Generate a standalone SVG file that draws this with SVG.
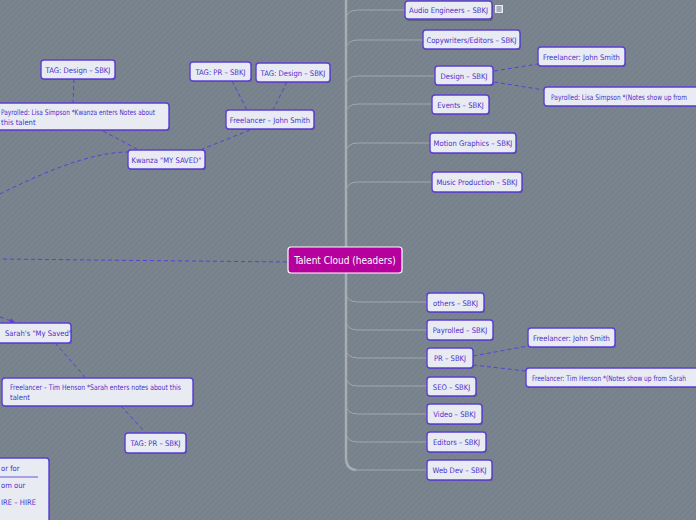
<svg xmlns="http://www.w3.org/2000/svg" width="696" height="520" viewBox="0 0 696 520">
<defs>
<pattern id="bg" width="4" height="4" patternUnits="userSpaceOnUse" patternTransform="rotate(45)">
<rect width="4" height="4" fill="#7a858f"/>
<rect width="2" height="4" fill="#76818b"/>
</pattern>
<marker id="ah" viewBox="0 0 6 6" refX="5" refY="3" markerWidth="5" markerHeight="5" orient="auto">
<path d="M0,0 L6,3 L0,6 z" fill="#5a3fd8"/>
</marker>
<style>
.n{fill:#e9ebf2;stroke:#5b3fd6;stroke-width:1.4}
.s{fill:#3b3f66;opacity:0.45}
.t{font-family:"Liberation Sans Narrow","DejaVu Sans Condensed","Roboto Condensed",sans-serif;font-size:7.6px;fill:#4a2fcf;text-anchor:middle}
.tl{text-anchor:start}
.d{fill:none;stroke:#5a3fd8;stroke-width:1;stroke-dasharray:4 3}
.b{fill:none;stroke:#a2a8ac;stroke-width:1}
.tr{fill:none;stroke:#a9adb0;stroke-width:2.5}
</style>
</defs>
<rect width="696" height="520" fill="url(#bg)"/>

<g id="connectors">
<path class="tr" d="M346,0 L346,458 Q346,469 356,470"/>
<path class="b" d="M355,470 L427,470"/>
<path class="b" d="M346,20 Q346,10 358,10 L405,10"/>
<path class="b" d="M346,50 Q346,40 358,40 L423,40"/>
<path class="b" d="M346,86 Q346,76 358,76 L435,76"/>
<path class="b" d="M346,114 Q346,104 358,104 L432,104"/>
<path class="b" d="M346,153 Q346,143 358,143 L430,143"/>
<path class="b" d="M346,192 Q346,182 358,182 L432,182"/>
<path class="b" d="M346,292 Q346,302 358,302 L427,302"/>
<path class="b" d="M346,320 Q346,330 358,330 L427,330"/>
<path class="b" d="M346,348 Q346,358 358,358 L427,358"/>
<path class="b" d="M346,376 Q346,386 358,386 L427,386"/>
<path class="b" d="M346,404 Q346,414 358,414 L427,414"/>
<path class="b" d="M346,432 Q346,442 358,442 L427,442"/>
<path class="d" d="M494,71 L538,64"/>
<path class="d" d="M494,82 L544,90"/>
<path class="d" d="M473,356 L528,346"/>
<path class="d" d="M473,365 L526,371"/>
<path class="d" d="M287,262 L0,259"/>
<path class="d" d="M74,79 L73,103"/>
<path class="d" d="M103,131 L137,149"/>
<path class="d" d="M250,130 L200,150"/>
<path class="d" d="M232,81 L247,110"/>
<path class="d" d="M287,82 L273,110"/>
<path class="d" d="M0,194 C40,174 90,152 128,152"/>
<path class="d" d="M0,317 L14,322" marker-end="url(#ah)"/>
<path class="d" d="M55,343 L85,377"/>
<path class="d" d="M121,406 L145,432"/>
</g>

<g id="center">
<rect x="288" y="247" width="114" height="26" rx="3" fill="#b5009e" stroke="#ffffff" stroke-width="1.2"/>
<text x="345" y="264" class="t" style="font-size:10px;fill:#ffffff">Talent Cloud (headers)</text>
</g>

<g id="audio"><rect class="s" x="406" y="2" width="87" height="19" rx="3"/><rect class="n" x="405" y="1" width="87" height="18" rx="3"/><text class="t" x="448.5" y="12.8">Audio Engineers – SBKJ</text>
<rect x="495" y="5" width="8" height="8" fill="#e9ebf2"/><path d="M496.5,7 h5 M496.5,9 h5 M496.5,11 h5" stroke="#4a4f66" stroke-width="0.8"/></g>
<g id="copy"><rect class="s" x="424" y="31" width="97" height="19" rx="3"/><rect class="n" x="423" y="30" width="97" height="19" rx="3"/><text class="t" x="471.5" y="42.5">Copywriters/Editors – SBKJ</text></g>
<g id="design"><rect class="s" x="436" y="67" width="58" height="19" rx="3"/><rect class="n" x="435" y="66" width="58" height="19" rx="3"/><text class="t" x="464" y="78.5">Design – SBKJ</text></g>
<g id="events"><rect class="s" x="433" y="96" width="57" height="19" rx="3"/><rect class="n" x="432" y="95" width="57" height="19" rx="3"/><text class="t" x="460.5" y="107.5">Events – SBKJ</text></g>
<g id="motion"><rect class="s" x="431" y="134" width="86" height="20" rx="3"/><rect class="n" x="430" y="133" width="86" height="20" rx="3"/><text class="t" x="473" y="146">Motion Graphics – SBKJ</text></g>
<g id="music"><rect class="s" x="433" y="173" width="90" height="20" rx="3"/><rect class="n" x="432" y="172" width="90" height="20" rx="3"/><text class="t" x="477" y="185">Music Production – SBKJ</text></g>
<g id="design-fl"><rect class="s" x="539" y="48" width="87" height="19" rx="3"/><rect class="n" x="538" y="47" width="87" height="19" rx="3"/><text class="t" x="581.5" y="59.5">Freelancer:  John Smith</text></g>
<g id="design-pay"><rect class="s" x="545" y="88" width="160" height="19" rx="3"/><rect class="n" x="544" y="87" width="160" height="19" rx="3"/><text class="t tl" x="551" y="99.5" textLength="136" lengthAdjust="spacingAndGlyphs">Payrolled:  Lisa Simpson *(Notes show up from</text></g>

<g id="others"><rect class="s" x="428" y="294" width="57" height="19" rx="3"/><rect class="n" x="427" y="293" width="57" height="19" rx="3"/><text class="t" x="455.5" y="305.5">others – SBKJ</text></g>
<g id="payrolled"><rect class="s" x="428" y="321" width="66" height="20" rx="3"/><rect class="n" x="427" y="320" width="66" height="20" rx="3"/><text class="t" x="460" y="333">Payrolled – SBKJ</text></g>
<g id="pr"><rect class="s" x="428" y="349" width="46" height="20" rx="3"/><rect class="n" x="427" y="348" width="46" height="20" rx="3"/><text class="t" x="450" y="361">PR – SBKJ</text></g>
<g id="seo"><rect class="s" x="428" y="378" width="49" height="19" rx="3"/><rect class="n" x="427" y="377" width="49" height="19" rx="3"/><text class="t" x="451.5" y="389.5">SEO – SBKJ</text></g>
<g id="video"><rect class="s" x="428" y="405" width="55" height="20" rx="3"/><rect class="n" x="427" y="404" width="55" height="20" rx="3"/><text class="t" x="454.5" y="417">Video – SBKJ</text></g>
<g id="editors"><rect class="s" x="428" y="433" width="59" height="20" rx="3"/><rect class="n" x="427" y="432" width="59" height="20" rx="3"/><text class="t" x="456.5" y="445">Editors – SBKJ</text></g>
<g id="webdev"><rect class="s" x="428" y="461" width="65" height="20" rx="3"/><rect class="n" x="427" y="460" width="65" height="20" rx="3"/><text class="t" x="459.5" y="473">Web Dev – SBKJ</text></g>
<g id="pr-fl"><rect class="s" x="529" y="329" width="87" height="19" rx="3"/><rect class="n" x="528" y="328" width="87" height="19" rx="3"/><text class="t" x="571.5" y="340.5">Freelancer:  John Smith</text></g>
<g id="pr-th"><rect class="s" x="527" y="369" width="180" height="19" rx="3"/><rect class="n" x="526" y="368" width="180" height="19" rx="3"/><text class="t tl" x="532" y="380.5" textLength="154" lengthAdjust="spacingAndGlyphs">Freelancer:  Tim Henson *(Notes show up from Sarah</text></g>

<g id="tag-design-l"><rect class="s" x="42" y="61" width="74" height="19" rx="3"/><rect class="n" x="41" y="60" width="74" height="19" rx="3"/><text class="t" x="78" y="72.5">TAG:  Design – SBKJ</text></g>
<g id="tag-pr-m"><rect class="s" x="191" y="63" width="61" height="19" rx="3"/><rect class="n" x="190" y="62" width="61" height="19" rx="3"/><text class="t" x="220.5" y="74.5">TAG:  PR – SBKJ</text></g>
<g id="tag-design-m"><rect class="s" x="257" y="64" width="74" height="19" rx="3"/><rect class="n" x="256" y="63" width="74" height="19" rx="3"/><text class="t" x="293" y="75.5">TAG:  Design – SBKJ</text></g>
<g id="kw-pay"><rect class="s" x="-21" y="104" width="191" height="27" rx="3"/><rect class="n" x="-22" y="103" width="191" height="27" rx="3"/><text class="t tl" x="1" y="115" textLength="154" lengthAdjust="spacingAndGlyphs">Payrolled:  Lisa Simpson *Kwanza enters Notes about</text><text class="t tl" x="1" y="124.5">this talent</text></g>
<g id="kw-fl"><rect class="s" x="227" y="111" width="88" height="19" rx="3"/><rect class="n" x="226" y="110" width="88" height="19" rx="3"/><text class="t" x="270" y="122.5">Freelancer – John Smith</text></g>
<g id="kwanza"><rect class="s" x="129" y="151" width="77" height="19" rx="3"/><rect class="n" x="128" y="150" width="77" height="19" rx="3"/><text class="t" x="166.5" y="162.5">Kwanza "MY SAVED"</text></g>

<g id="sarah"><rect class="s" x="-2" y="324" width="74" height="20" rx="3"/><rect class="n" x="-3" y="323" width="74" height="20" rx="3"/><text class="t tl" x="5" y="336">Sarah's "My Saved"</text></g>
<g id="sarah-th"><rect class="s" x="3" y="379" width="191" height="28" rx="3"/><rect class="n" x="2" y="378" width="191" height="28" rx="3"/><text class="t tl" x="10" y="390" textLength="171" lengthAdjust="spacingAndGlyphs">Freelancer – Tim Henson *Sarah enters notes about  this</text><text class="t tl" x="10" y="399.5">talent</text></g>
<g id="tag-pr-b"><rect class="s" x="126" y="434" width="61" height="20" rx="3"/><rect class="n" x="125" y="433" width="61" height="20" rx="3"/><text class="t" x="155.5" y="446">TAG:  PR – SBKJ</text></g>
<g id="note"><rect class="s" x="-9" y="459" width="59" height="66" rx="3"/><rect class="n" x="-10" y="458" width="59" height="66" rx="3"/><text class="t tl" x="1" y="471">or for</text><path d="M0,477 H38" stroke="#4a2fcf" stroke-width="0.8"/><text class="t tl" x="1" y="488">om our</text><text class="t tl" x="1" y="505">IRE – HIRE</text></g>
</svg>
